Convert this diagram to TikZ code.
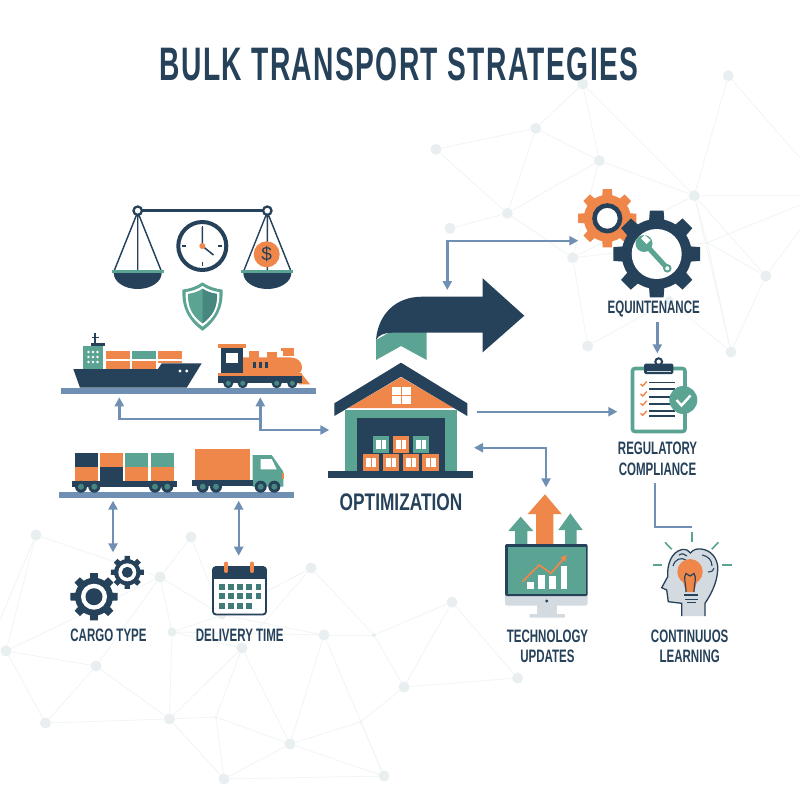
\documentclass[tikz,border=0pt]{standalone}
\usepackage{fontspec}
\usetikzlibrary{arrows.meta, positioning}
\newfontfamily\condfont[FakeStretch=0.64]{Liberation Sans Bold}
\newfontfamily\optfont[FakeStretch=0.72]{Liberation Sans Bold}
\newfontfamily\titlefont[FakeStretch=0.6,LetterSpace=3]{Liberation Sans Bold}
\definecolor{navy}{HTML}{26415A}
\definecolor{copper}{HTML}{F0874A}
\definecolor{sea}{HTML}{5BA392}
\definecolor{seadark}{HTML}{47877F}
\definecolor{steel}{HTML}{6F8FB3}
\definecolor{ash}{HTML}{D3DBE1}
\definecolor{netdot}{HTML}{E9EFF1}
\definecolor{netline}{HTML}{F1F5F6}
% gear: x, y, outer radius, root radius, colour
\newcommand{\gearicon}[5]{
  \begin{scope}[shift={(#1,#2)}]
    \fill[#5] (0,0) circle (#4);
    \foreach \a in {0,45,...,315}{
      \fill[#5] (\a-13:#4-1) -- (\a-9:#3) -- (\a+9:#3) -- (\a+13:#4-1) -- cycle;}
  \end{scope}}
% wheel on a chassis
\newcommand{\wheelicon}[3]{
  \fill[navy] (#1,#2) circle (#3);
  \fill[seadark] (#1,#2) circle (#3*0.5);}
% box with two small windows
\newcommand{\crate}[3]{
  \fill[#3] (#1,#2) rectangle +(16.6,16.6);
  \fill[white] (#1+3.2,#2+4) rectangle +(4.6,9);
  \fill[white] (#1+8.8,#2+4) rectangle +(4.6,9);}
\newcommand{\shieldpath}{(0,-22.3) .. controls (6,-18) and (13,-16) .. (20,-15) .. controls (21,3) and (14,16) .. (0,26) .. controls (-14,16) and (-21,3) .. (-20,-15) .. controls (-13,-16) and (-6,-18) .. (0,-22.3) -- cycle}
\tikzset{
  link/.style={draw=steel,line width=2.4pt,-{Stealth[length=9pt,width=9pt,inset=0pt]}},
  twolink/.style={link,{Stealth[length=9pt,width=9pt,inset=0pt]}-{Stealth[length=9pt,width=9pt,inset=0pt]}},
  plainlink/.style={draw=steel,line width=2.4pt},
  lbl/.style={text=navy,align=center,inner sep=0pt,font=\condfont\fontsize{18}{20.5}\selectfont},
  netnode/.style={circle,fill=netdot,inner sep=0pt,minimum size=#1},
  netnode/.default=11pt,
  ray/.style={draw=sea,line width=1.6pt},
}
\begin{document}
\begin{tikzpicture}[x=1pt,y=-1pt]
  \useasboundingbox (0,0) rectangle (800,800);
  \fill[white] (0,0) rectangle (800,800);

  % background net
  \foreach \n/\x/\y/\s in {a/582.7/84/11,b/728.3/75.7/11,c/535.7/128.3/11,d/436/149.3/11,e/599.3/160.7/11,f/507.3/213.3/11,g/450/228.3/11,h/694.3/195.7/11,i/572.7/257.7/11,j/765.7/276/11,k/587.7/346/11,l/731/352/11,m/669.3/300.7/9,o/707.3/242.7/3,
      p/36/535/11,q/191/537/11,r/160/577/11,s/311/568/11,t/6/651/11,u/96/666/11,v/172/632/9,w/222/615/9,x/242/648/11,y/324/635/11,z/374/635/4,
      aa/452/602/11,ab/404/687/11,ac/517.6/678/11,ad/45.5/723/11,ae/169.4/719/11,af/216/717/3,ag/290/744/11,ah/360.5/722/3,ai/224/779/11,aj/384/776/11}
    {\node[netnode=\s pt] (net_\n) at (\x,\y) {};}
  \coordinate (edge_a) at (800,158);
  \coordinate (edge_b) at (800,195.7);
  \coordinate (edge_c) at (800,205);
  \coordinate (edge_d) at (800,230);
  \coordinate (edge_e) at (0,620);
  \foreach \p/\q in {a/c,a/e,a/h,c/d,c/e,c/f,d/f,e/f,e/h,b/h,f/i,g/f,e/i,i/k,i/h,h/j,h/o,h/l,o/l,o/j,j/l,k/m,m/l,o/i,
      p/t,p/r,q/r,q/w,r/w,r/v,r/u,t/u,t/r,t/ad,u/ad,u/ae,ad/ae,v/ae,v/x,v/w,w/y,x/ae,x/af,x/ag,s/w,s/x,s/z,y/z,v/y,y/ag,y/aj,z/aa,z/ab,aa/ab,aa/ac,ab/ac,ab/ah,ah/ag,ah/aj,ae/af,af/ag,af/ai,ae/ai,ai/ag,ai/aj,ag/aj}
    {\draw[netline,line width=0.8pt] (net_\p) -- (net_\q);}
  \draw[netline,line width=0.8pt] (net_b) -- (edge_a) (net_h) -- (edge_b) (net_o) -- (edge_c) (net_j) -- (edge_d) (net_p) -- (edge_e);

  \node[text=navy,inner sep=0pt,font=\titlefont\fontsize{47}{50}\selectfont] (title) at (399,64) {BULK TRANSPORT STRATEGIES};

  % scales
  \draw[navy,line width=2.6pt] (137.7,210.7) -- (267.3,210.7);
  \foreach \c in {137.7,267.3}{
    \draw[navy,line width=1.4pt] (\c-24,272) -- (\c,212) -- (\c+24,272) (\c,212) -- (\c,272);
    \draw[navy,line width=2.3pt,fill=white] (\c,210.7) circle (4.2);
    \fill[navy] (\c-24,273) arc[start angle=180,end angle=0,x radius=24,y radius=16] -- cycle;
    \fill[sea] (\c-26,270.2) rectangle (\c+26,273.4);}
  \fill[copper] (266.7,254.3) circle (13);
  \node[text=navy,inner sep=0pt,font=\fontspec{Liberation Sans}\fontsize{19}{20}\selectfont] (coin) at (266.7,254.3) {\$};

  % clock
  \draw[navy,line width=4pt,fill=white] (202.3,246) circle (24);
  \foreach \a in {0,90,180,270}{
    \draw[navy,line width=1.5pt] (202.3,246) ++(\a:16) -- ++(\a:4);}
  \draw[navy,line width=1.5pt] (202.3,227) -- (202.3,246) -- (213.5,255);
  \fill[copper] (202.3,246) circle (3);

  % shield
  \begin{scope}[shift={(202.5,304.7)}]
    \fill[sea] \shieldpath;
    \fill[white,scale=0.84] \shieldpath;
    \fill[sea,scale=0.72] \shieldpath;
    \clip (0,-30) rectangle (30,30);
    \fill[seadark,scale=0.72] \shieldpath;
  \end{scope}

  % ship
  \fill[navy] (73.3,369) -- (158,369) -- (161.7,363.3) -- (201.7,363.3) -- (186.7,387.7) -- (80,387.7) -- cycle;
  \foreach \x/\c in {106/copper,132/sea,158.3/copper}{
    \fill[\c] (\x,350.7) rectangle +(23.8,8.6);}
  \fill[copper] (106,360.7) rectangle +(23.8,8.3);
  \fill[copper] (132,360.7) rectangle +(23.8,8.3);
  \fill[copper] (158.3,360.7) rectangle (182,363.3);
  \fill[sea] (82.7,346) rectangle (103.3,369);
  \foreach \x in {88.5,93,97.5}{\foreach \y in {352,357,362}{
    \fill[white] (\x,\y) circle (1.3);}}
  \fill[navy] (90.7,342.7) rectangle (105,345.7);
  \draw[navy,line width=1.2pt] (95,332.7) -- (95,342.7) (91.5,337.5) -- (99,337.5);
  \fill[white] (180,371) circle (1.6) (186.7,371) circle (1.6);

  % locomotive
  \fill[copper] (243,357.3) -- (288,357.3) .. controls (298,357.3) and (302,362) .. (302,367) .. controls (302,371) and (300,373.7) .. (298,373.7) -- (243,373.7) -- cycle;
  \foreach \x/\t/\w in {249/351/10,267.3/351.7/9.3,283.3/348.7/10.7}{
    \fill[copper] (\x,\t) rectangle +(\w,7);}
  \fill[copper] (281,348) rectangle (294,350.5);
  \foreach \x in {253.3,259.3,265.3}{
    \fill[navy] (\x,362) rectangle +(2.5,6);}
  \fill[navy] (220.7,347.3) rectangle (243.3,374);
  \fill[white] (226,353.3) rectangle (238.3,362.7);
  \fill[copper] (217.7,344.3) rectangle (246,348.3);
  \fill[copper] (217.7,373) rectangle (301.7,376);
  \fill[copper] (301.7,374) -- (310,384.3) -- (298.3,384.3) -- cycle;
  \fill[navy] (217.7,376) rectangle (301.7,382.7);
  \foreach \x in {228.3,242.7,276.7,292.3}{\wheelicon{\x}{383.3}{5}}

  % rails
  \fill[steel] (61,388) rectangle (315.7,393.7);
  \fill[steel] (59,492.3) rectangle (294.3,498.3);
  \coordinate (rail_a) at (119.3,397.3);
  \coordinate (rail_b) at (260.3,397.3);
  \coordinate (rail_c) at (260.3,419);
  \coordinate (depot_w) at (329.3,430);
  \draw[link] (rail_c) -| (rail_a);
  \draw[link] (rail_c) -- (rail_b);
  \draw[link] (rail_c) |- (depot_w);

  % flat wagon
  \foreach \x/\c/\d in {75/navy/copper,100/copper/navy,125/sea/copper,151/sea/copper}{
    \fill[\c] (\x,452.7) rectangle +(23,14);
    \fill[\d] (\x,466.7) rectangle +(23,14);}
  \fill[navy] (72.3,480.7) rectangle (176.7,486.7);
  \foreach \x in {81,94.3,155,167.3}{\wheelicon{\x}{486.7}{6}}

  % truck
  \fill[copper] (195,449.3) rectangle (250,480.7);
  \fill[sea] (252.7,455) -- (271.7,455) -- (283.3,471.7) -- (283.3,486.7) -- (252.7,486.7) -- cycle;
  \fill[white] (260.7,459) -- (271.7,459) -- (276.7,469.3) -- (260.7,469.3) -- cycle;
  \fill[copper] (282,473) rectangle (284,479);
  \fill[navy] (192.3,480) rectangle (253.3,486);
  \foreach \x in {202.7,216,260.7,274.3}{\wheelicon{\x}{486.7}{6}}

  % lower left arrows
  \coordinate (rail_d) at (113,500.7);
  \coordinate (cargo_n) at (113,552.3);
  \coordinate (rail_e) at (238.7,500.7);
  \coordinate (time_n) at (238.7,555.7);
  \draw[twolink] (rail_d) -- (cargo_n);
  \draw[twolink] (rail_e) -- (time_n);

  % cargo gears
  \gearicon{94}{596.7}{24}{19}{navy}
  \fill[white] (94,596.7) circle (13);
  \fill[navy] (94,596.7) circle (8.5);
  \gearicon{127.3}{572.3}{16.7}{13.2}{navy}
  \fill[white] (127.3,572.3) circle (9);
  \fill[navy] (127.3,572.3) circle (5.5);
  \node[lbl] (cargo) at (108.5,635) {CARGO TYPE};

  % calendar
  \fill[white,draw=navy,line width=1.8pt,rounded corners=3pt] (213,567) rectangle (266,614.5);
  \fill[navy,rounded corners=3pt] (212.3,566.7) rectangle (266.7,576);
  \fill[navy] (212.3,572) rectangle (266.7,579);
  \foreach \x/\c in {226/copper,252.3/copper}{
    \draw[\c,line width=4pt,line cap=round] (\x,563.5) -- (\x,571);}
  \foreach \x in {221.7,230.7,240,249,258.3}{\foreach \y in {586.7,596}{
    \fill[seadark!85!navy] (\x-2.8,\y-2.8) rectangle +(5.6,5.6);}}
  \foreach \x in {221.7,230.7,240,249}{
    \fill[seadark!85!navy] (\x-2.8,602.9) rectangle +(5.6,5.6);}
  \node[lbl] (delivery) at (239.7,635) {DELIVERY TIME};

  % big arrow
  \fill[sea] (376,340) -- (376,360) -- (401,346) -- (426.7,360) -- (426.7,332) -- (390,332) -- cycle;
  \fill[navy] (482.7,296.7) -- (482.7,278.3) -- (524.3,315.7) -- (482.7,352.3) -- (482.7,332.7) -- (392,332.7) .. controls (385,332.7) and (378,335) .. (376,340) .. controls (378,315) and (395,296.7) .. (422,296.7) -- cycle;

  % depot
  \fill[sea] (345,410) rectangle (457.3,471);
  \fill[navy] (356.7,418.3) rectangle (445,471);
  \fill[copper] (401,377.3) -- (348,408) -- (454,408) -- cycle;
  \fill[navy] (401,362.7) -- (467.3,403.3) -- (467.3,416) -- (401,376.7) -- (334.3,416) -- (334.3,403.3) -- cycle;
  \fill[white] (391.7,386.7) rectangle (400.5,394.8);
  \fill[white] (401.9,386.7) rectangle (410.7,394.8);
  \fill[white] (391.7,396) rectangle (400.5,404);
  \fill[white] (401.9,396) rectangle (410.7,404);
  \crate{372.7}{436}{sea}
  \crate{392.7}{436}{copper}
  \crate{412.7}{436}{sea}
  \foreach \x in {362.7,382.7,402.7,422.4}{\crate{\x}{454}{copper}}
  \fill[navy] (328.3,471) rectangle (473.3,477.7);
  \node[lbl,font=\optfont\fontsize{24}{26}\selectfont] (optimization) at (401,502.5) {OPTIMIZATION};

  % gears, upper right
  \gearicon{607.3}{218.3}{29.5}{23.5}{copper}
  \draw[navy,line width=4.6pt,fill=white] (607.3,218.3) circle (12.8);
  \gearicon{656.7}{254}{44}{35}{navy}
  \fill[white] (656.7,254) circle (25);
  \draw[sea,line width=5pt] (646,245) -- (667.3,268.3);
  \fill[sea] (644,243.5) circle (8.5);
  \fill[white] (644.5,235) -- (650.5,240) -- (646.5,244) -- (641,238.5) -- cycle;
  \fill[sea] (667.3,268.3) circle (4.3);
  \fill[white] (667.3,268.3) circle (2);
  \node[lbl] (equip) at (653.7,309) {EQUINTENANCE};

  % upper links
  \coordinate (swoosh_n) at (447.3,290);
  \coordinate (gear_w) at (578.3,240.7);
  \draw[twolink] (swoosh_n) |- (gear_w);
  \coordinate (equip_s) at (657.3,322.3);
  \coordinate (clip_n) at (657.3,353.3);
  \draw[link] (equip_s) -- (clip_n);
  \coordinate (depot_e) at (476.7,411.7);
  \coordinate (clip_w) at (617.3,411.7);
  \draw[link] (depot_e) -- (clip_w);
  \coordinate (depot_se) at (474,447.7);
  \coordinate (tech_n) at (546,487.3);
  \draw[twolink] (depot_se) -| (tech_n);

  % clipboard
  \draw[sea,line width=3.6pt,fill=white,rounded corners=2.5pt] (632.5,368.5) rectangle (685,431.5);
  \draw[navy,line width=2pt] (658.7,361.7) circle (3.4);
  \fill[navy,rounded corners=1.5pt] (644,363.5) rectangle (673.3,374);
  \fill[ash] (647,370.5) rectangle (670.5,371.5);
  \foreach \y in {382.3,389,396.7,404,410.7,416}{
    \draw[navy,line width=1.6pt] (649.3,\y) -- (675,\y);}
  \foreach \y in {384,394,403.3,413.3}{
    \draw[copper,line width=1.4pt] (640.5,\y) -- (642.7,\y+2) -- (646.8,\y-2.5);}
  \fill[sea] (683.3,400) circle (14);
  \draw[white,line width=2.4pt] (676.5,400) -- (681.5,405.5) -- (690.5,395.5);
  \node[lbl] (compliance) at (657.5,458.7) {REGULATORY\\COMPLIANCE};

  % link into the bulb
  \coordinate (compliance_s) at (655,483);
  \coordinate (learn_n) at (691.7,526.7);
  \draw[plainlink] (compliance_s) |- (learn_n);

  % monitor
  \fill[sea] (515,531) -- (508.3,531) -- (520.7,516.7) -- (533.3,531) -- (527.3,531) -- (527.3,546) -- (515,546) -- cycle;
  \fill[sea] (565,530) -- (558.3,530) -- (570.3,513.3) -- (582.7,530) -- (576.7,530) -- (576.7,546) -- (565,546) -- cycle;
  \fill[copper] (536,514) -- (527.7,514) -- (545,494.3) -- (561.7,514) -- (553.3,514) -- (553.3,546) -- (536,546) -- cycle;
  \fill[ash,rounded corners=2.5pt] (505,590) rectangle (587.7,605.7);
  \fill[ash] (536.5,605) rectangle (556.5,614);
  \fill[ash,rounded corners=1pt] (529.3,614) rectangle (565,617.7);
  \fill[navy,rounded corners=2pt] (505,544) rectangle (587.7,596);
  \fill[sea] (507.5,546.5) rectangle (585.5,594);
  \fill[navy] (546.7,601) circle (1.6);
  \foreach \x/\t in {527.3/581.7,538.3/575,549.3/576,560.7/566}{
    \fill[white] (\x,\t) rectangle (\x+6.7,589);}
  \draw[copper,line width=1.7pt,-{Stealth[length=6pt,width=6pt,inset=0pt]}] (522.3,581.7) -- (539.3,565) -- (551,573.3) -- (566.7,555);
  \node[lbl] (tech) at (547.5,646.5) {TECHNOLOGY\\UPDATES};

  % head and bulb
  \draw[navy,line width=1.3pt,fill=ash] (681.7,616) -- (681.7,603.3) -- (668.3,601.7) -- (666.7,590) -- (661.7,587.7) -- (667.7,576.7) .. controls (667,565) and (671,552) .. (682,549.5) .. controls (686,549) and (689,550.5) .. (690.5,553) .. controls (693,549.5) and (697,548.5) .. (701,549) .. controls (711,550) and (717,558) .. (717.7,566.7) .. controls (718,578) and (714,590) .. (705,603.3) -- (705,616);
  \draw[navy,line width=1.1pt] (673,566) .. controls (675,559) and (681,557) .. (686,560) (679,555) .. controls (682,553) and (685,554) .. (687,556) (702,555) .. controls (708,556) and (712,560) .. (712,566) (708,572) .. controls (712,572) and (714,570) .. (714,568);
  \fill[copper] (690,571.7) circle (12.7);
  \fill[copper] (682,578) -- (686,592) -- (694,592) -- (698,578) -- cycle;
  \draw[navy,line width=1.2pt] (686,592) .. controls (686,584) and (683,577) .. (686,573.5) -- (690,576) -- (694,573.5) .. controls (697,577) and (694,584) .. (694,592);
  \draw[navy,line width=1.5pt] (684.3,595) -- (698.3,595) (684.8,599.3) -- (697.8,599.3) (687,602.7) -- (695.5,602.7);
  \draw[ray] (691.7,532.3) -- (691.7,541.7);
  \draw[ray] (665,542.3) -- (671.7,549.3);
  \draw[ray] (711.7,549.3) -- (718.3,542.3);
  \draw[ray] (652.7,565) -- (662.3,565);
  \draw[ray] (721.7,565) -- (731.7,565);
  \node[lbl] (learning) at (689.7,646.5) {CONTINUUOS\\LEARNING};
\end{tikzpicture}
\end{document}
